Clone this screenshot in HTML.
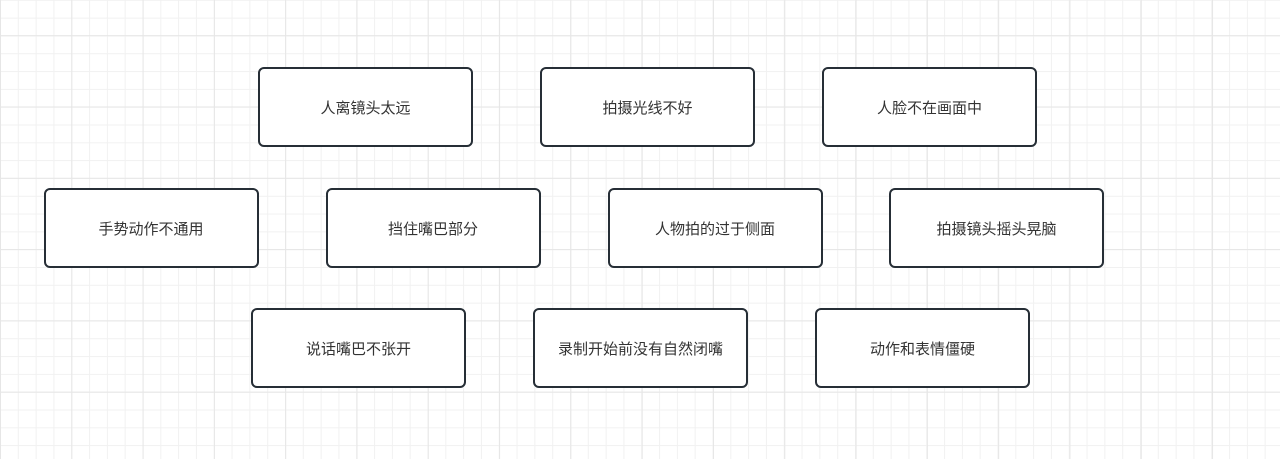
<!DOCTYPE html>
<html>
<head>
<meta charset="utf-8">
<style>
html,body{margin:0;padding:0;}
body{
  width:1280px;height:459px;overflow:hidden;position:relative;
  background-color:#ffffff;
  background-image:
    linear-gradient(to right, #e6e6e6 1px, transparent 1px),
    linear-gradient(to bottom, #e6e6e6 1px, transparent 1px),
    linear-gradient(to right, #f1f1f1 1px, transparent 1px),
    linear-gradient(to bottom, #f1f1f1 1px, transparent 1px);
  background-size:71.3px 71.3px,71.3px 71.3px,17.825px 17.825px,17.825px 17.825px;
  background-position:0 35.2px,0 35.2px,0 -0.2px,0 -0.2px;
  font-family:"Liberation Sans","Noto Sans CJK SC",sans-serif;
}
.b{
  position:absolute;width:215px;height:80px;box-sizing:border-box;
  border:2px solid #262e36;border-radius:6px;background:#fff;
  display:flex;align-items:center;justify-content:center;
  font-size:15px;color:#333;padding-top:1px;
}
</style>
</head>
<body>
<div class="b" style="left:258px;top:67px;">人离镜头太远</div>
<div class="b" style="left:540px;top:67px;">拍摄光线不好</div>
<div class="b" style="left:822px;top:67px;">人脸不在画面中</div>

<div class="b" style="left:43.5px;top:187.5px;">手势动作不通用</div>
<div class="b" style="left:325.5px;top:187.5px;">挡住嘴巴部分</div>
<div class="b" style="left:607.5px;top:187.5px;">人物拍的过于侧面</div>
<div class="b" style="left:889px;top:187.5px;">拍摄镜头摇头晃脑</div>

<div class="b" style="left:251px;top:308px;">说话嘴巴不张开</div>
<div class="b" style="left:533px;top:308px;">录制开始前没有自然闭嘴</div>
<div class="b" style="left:815px;top:308px;">动作和表情僵硬</div>
</body>
</html>
